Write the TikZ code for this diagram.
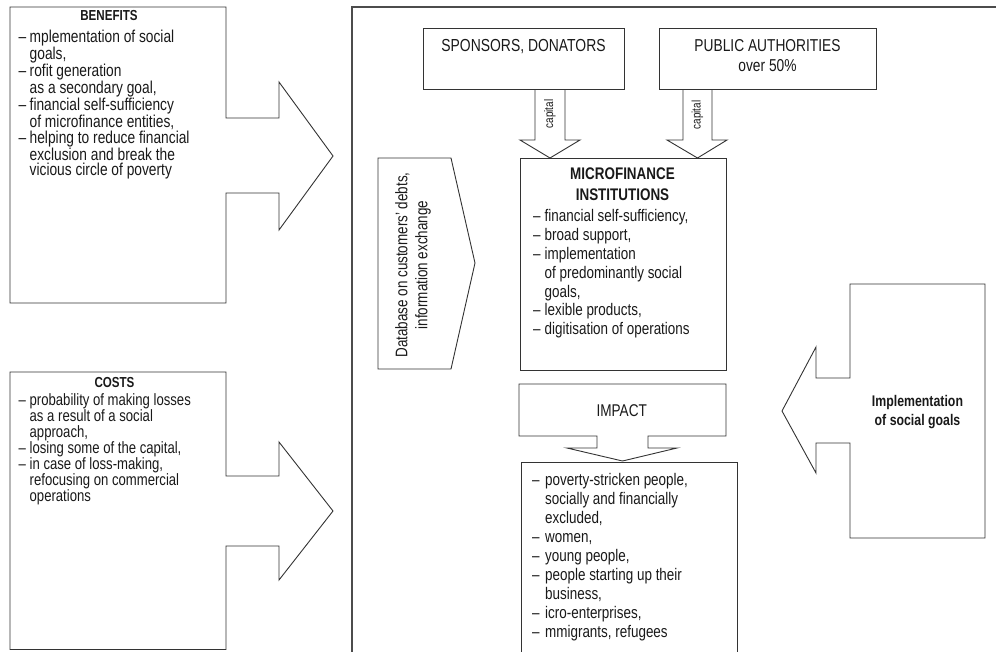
\documentclass[tikz,border=0pt]{standalone}
\usepackage{fontspec}
\setmainfont{Liberation Sans}[FakeStretch=0.8]
\newcommand\fsz[2]{\fontsize{#1}{#2}\selectfont}
\newcommand\dsh[1]{\makebox[#1][l]{–}}
\begin{document}
\begin{tikzpicture}[x=1pt,y=-1pt,
  blk/.style={draw=black!80,line width=0.9pt,line join=miter},
  frm/.style={draw=black!70,line width=1.4pt},
  lst/.style={inner sep=0pt,align=left,anchor=north west,text=black!90},
  ttl/.style={inner sep=0pt,align=center,anchor=north,text=black!90},
  rot/.style={inner sep=0pt,align=center,rotate=90,text=black!90}]
\useasboundingbox (0,0) rectangle (996,651);
% outer frame
\draw[frm] (996,7) -- (352,7) -- (352,655);
% benefits
\draw[blk] (10,7) -- (226,7) -- (226,118) -- (279,118) -- (279,82) -- (333,156)
  -- (279,230) -- (279,193) -- (226,193) -- (226,303) -- (10,303) -- cycle;
\node[ttl,font=\bfseries\fsz{14.5}{16}] (bh) at (109,10.5) {BENEFITS};
\node[lst,font=\fsz{17.2}{15.8}] (bl) at (18.5,29.5) {%
\dsh{11pt}mplementation of social\\
\hspace*{11pt}goals,\\
\dsh{11pt}rofit generation\\
\hspace*{11pt}as a secondary goal,\\
\dsh{11pt}financial self-sufficiency\\
\hspace*{11pt}of microfinance entities,\\
\dsh{11pt}helping to reduce financial\\
\hspace*{11pt}exclusion and break the\\
\hspace*{11pt}vicious circle of poverty};
% costs
\draw[blk] (10,372) -- (226,372) -- (226,476) -- (279,476) -- (279,442) -- (333,511)
  -- (279,580) -- (279,546) -- (226,546) -- (226,649.5) -- (10,649.5) -- cycle;
\node[ttl,font=\bfseries\fsz{14.5}{16}] (ch) at (114.5,377.5) {COSTS};
\node[lst,font=\fsz{16.4}{16}] (cl) at (18.5,393) {%
\dsh{11pt}probability of making losses\\
\hspace*{11pt}as a result of a social\\
\hspace*{11pt}approach,\\
\dsh{11pt}losing some of the capital,\\
\dsh{11pt}in case of loss-making,\\
\hspace*{11pt}refocusing on commercial\\
\hspace*{11pt}operations};
% sponsors
\draw[blk] (423,28) rectangle (624,89);
\node[ttl,font=\fsz{17.4}{20}] (sp) at (523.5,39.3) {SPONSORS, DONATORS};
% public authorities
\draw[blk] (659,28) rectangle (876,89);
\node[ttl,font=\fsz{17.2}{19.7}] (pa) at (767.5,39.3) {PUBLIC AUTHORITIES\\over 50\%};
% capital arrows
\draw[blk] (535,89) -- (535,140) -- (520,140) -- (550,158) -- (580,140) -- (565,140) -- (565,89);
\node[rot,font=\fsz{12.4}{14}] (c1) at (550,114) {capital};
\draw[blk] (683,89) -- (683,140) -- (667,140) -- (697.5,158) -- (727,140) -- (712,140) -- (712,89);
\node[rot,font=\fsz{12.4}{14}] (c2) at (697.5,115) {capital};
% MFI
\draw[blk] (520,158) rectangle (726,370);
\node[ttl,font=\bfseries\fsz{16.8}{21.7}] (mh) at (622.5,167.3) {MICROFINANCE\\INSTITUTIONS};
\node[lst,font=\fsz{16.8}{18.8}] (ml) at (533,209.5) {%
\dsh{11.5pt}financial self-sufficiency,\\
\dsh{11.5pt}broad support,\\
\dsh{11.5pt}implementation\\
\hspace*{11.5pt}of predominantly social\\
\hspace*{11.5pt}goals,\\
\dsh{11.5pt}lexible products,\\
\dsh{11.5pt}digitisation of operations};
% database
\draw[blk] (378,158) -- (451,158) -- (475,263) -- (451,369) -- (378,369) -- cycle;
\node[rot,font=\fsz{16.8}{20}] (db) at (413,265) {Database on customers’ debts,\\information exchange};
% impact
\draw[blk] (519,384) -- (726,384) -- (726,436) -- (648,436) -- (648,448) -- (677,448)
  -- (622.5,461) -- (567,448) -- (597,448) -- (597,436) -- (519,436) -- cycle;
\node[ttl,font=\fsz{17}{20}] (im) at (621.7,404.3) {IMPACT};
\draw[blk] (521,655) -- (521,462) -- (737,462) -- (737,655);
\node[lst,font=\fsz{16.8}{19}] (il) at (532,473.5) {%
\dsh{13pt}poverty-stricken people,\\
\hspace*{13pt}socially and financially\\
\hspace*{13pt}excluded,\\
\dsh{13pt}women,\\
\dsh{13pt}young people,\\
\dsh{13pt}people starting up their\\
\hspace*{13pt}business,\\
\dsh{13pt}icro-enterprises,\\
\dsh{13pt}mmigrants, refugees};
% implementation
\draw[blk] (985,284) -- (850,284) -- (850,378) -- (816,378) -- (816,347) -- (782,411)
  -- (816,473) -- (816,443) -- (850,443) -- (850,538) -- (985,538) -- cycle;
\node[ttl,font=\bfseries\fsz{15.4}{19}] (ig) at (917.5,395) {Implementation\\of social goals};
\end{tikzpicture}
\end{document}
